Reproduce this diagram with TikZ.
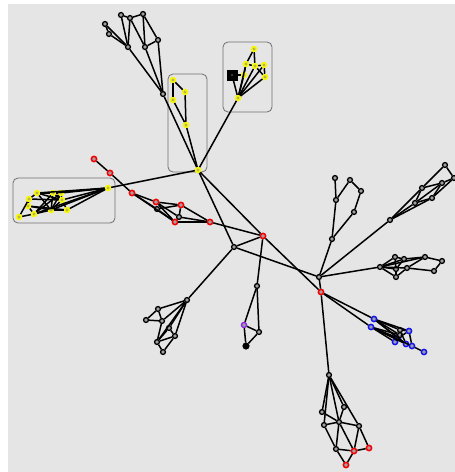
\documentclass[tikz,border=0pt]{standalone}
\definecolor{bgc}{HTML}{E5E5E5}
\definecolor{framec}{HTML}{6E6E6E}
\definecolor{yel}{HTML}{F8F800}
\definecolor{redc}{HTML}{F00000}
\definecolor{bluec}{HTML}{1010F0}
\definecolor{purp}{HTML}{8A2BE2}
\tikzset{
  base/.style={circle,inner sep=0pt,minimum size=4.8pt,fill=black!30,draw=black,line width=1.35pt,
    path picture={\fill[black!60] (path picture bounding box.center) circle (0.7pt);}},
  kn/.style={base},
  yn/.style={base,draw=yel,fill=yel!75!black!70,minimum size=5pt,line width=1.5pt},
  rn/.style={base,draw=redc,minimum size=5.2pt,line width=1.6pt},
  bn/.style={base,draw=bluec,minimum size=5.2pt,line width=1.5pt},
  pn/.style={base,draw=purp,minimum size=5pt,line width=1.5pt},
  blk/.style={circle,inner sep=0pt,minimum size=6.5pt,fill=black,draw=black,line width=.6pt},
  sq/.style={rectangle,inner sep=0pt,minimum size=10.5pt,fill=black,draw=black,
    path picture={\fill[black!55] (path picture bounding box.center) circle (0.8pt);}},
  edge/.style={draw=black,line width=1.5pt},
  groupbox/.style={draw=framec,line width=.8pt,rounded corners=5pt}
}
\begin{document}
\begin{tikzpicture}[x=1pt,y=-1pt]
\useasboundingbox (0,0) rectangle (455,472);
\fill[white] (0,0) rectangle (455,472);
\fill[bgc] (8,4) rectangle (455,472);
\draw[groupbox] (168,74) rectangle (207,172);
\draw[groupbox] (223,42) rectangle (272,112);
\draw[groupbox] (13,178) rectangle (115,223);
% top-left black cluster
\node[kn] (a1) at (121,15) {};
\node[kn] (a2) at (130,18) {};
\node[kn] (a3) at (143,14) {};
\node[kn] (a4) at (105,24) {};
\node[kn] (a5) at (109,34) {};
\node[kn] (a6) at (128,47) {};
\node[kn] (a7) at (145,47) {};
\node[kn] (a8) at (158,40) {};
\node[kn] (a9) at (163,94) {};
% yellow frame 1
\node[yn] (y1) at (173,80) {};
\node[yn] (y2) at (185,92) {};
\node[yn] (y3) at (173,100) {};
\node[yn] (y4) at (186,125) {};
\node[yn] (h) at (198,170) {};
% yellow frame 2
\node[yn] (z1) at (254,49) {};
\node[yn] (z2) at (246,64) {};
\node[yn] (z3) at (255,66) {};
\node[yn] (z4) at (264,65) {};
\node[yn] (z5) at (265,77) {};
\node[yn] (z6) at (244,75) {};
\node[sq] (z7) at (232,75) {};
\node[yn] (z8) at (238,98) {};
% left yellow cluster
\node[yn] (l0) at (108,188) {};
\node[yn] (l1) at (37,193) {};
\node[yn] (l2) at (53,193) {};
\node[yn] (l3) at (61,193) {};
\node[yn] (l4) at (29,199) {};
\node[yn] (l5) at (62,200) {};
\node[yn] (l6) at (28,206) {};
\node[yn] (l7) at (51,210) {};
\node[yn] (l8) at (67,210) {};
\node[yn] (l9) at (34,214) {};
\node[yn] (l10) at (19,217) {};
% red chain
\node[rn] (r1) at (94,159) {};
\node[rn] (r2) at (110,173) {};
\node[rn] (r3) at (132,193) {};
\node[rn] (r4) at (156,202) {};
\node[rn] (r5) at (181,205) {};
\node[kn] (r6) at (157,209) {};
\node[kn] (r7) at (179,217) {};
\node[rn] (r8) at (175,222) {};
\node[rn] (r9) at (210,222) {};
\node[rn] (c1) at (263,236) {};
\node[kn] (c2) at (234,247) {};
% hubs
\node[kn] (c3) at (319,277) {};
\node[rn] (c4) at (321,292) {};
% upper right loop
\node[kn] (u1) at (332,239) {};
\node[kn] (u2) at (336,200) {};
\node[kn] (u3) at (335,178) {};
\node[kn] (u4) at (350,180) {};
\node[kn] (u5) at (361,191) {};
\node[kn] (u6) at (354,212) {};
% right top cluster
\node[kn] (v1) at (390,220) {};
\node[kn] (v2) at (422,188) {};
\node[kn] (v3) at (432,198) {};
\node[kn] (v4) at (415,203) {};
\node[kn] (v5) at (442,183) {};
\node[kn] (v6) at (445,165) {};
\node[kn] (v7) at (454,178) {};
% right mid cluster
\node[kn] (w1) at (380,267) {};
\node[kn] (w2) at (395,257) {};
\node[kn] (w3) at (404,259) {};
\node[kn] (w4) at (425,257) {};
\node[kn] (w5) at (442,261) {};
\node[kn] (w6) at (434,271) {};
\node[kn] (w7) at (407,268) {};
\node[kn] (w8) at (396,269) {};
\node[kn] (w9) at (396,277) {};
% blue cluster
\node[bn] (b1) at (374,319) {};
\node[bn] (b2) at (371,327) {};
\node[bn] (b3) at (409,331) {};
\node[bn] (b4) at (398,338) {};
\node[bn] (b5) at (395,342) {};
\node[bn] (b6) at (406,344) {};
\node[bn] (b7) at (412,346) {};
\node[bn] (b8) at (424,352) {};
\node[kn] (b9) at (400,330) {};
\node[kn] (b10) at (400,335) {};
% bottom cluster
\node[kn] (s1) at (329,375) {};
\node[kn] (s2) at (322,412) {};
\node[kn] (s3) at (344,407) {};
\node[kn] (s4) at (324,425) {};
\node[kn] (s5) at (339,422) {};
\node[kn] (s6) at (359,426) {};
\node[kn] (s7) at (336,449) {};
\node[rn] (s8) at (354,451) {};
\node[rn] (s9) at (369,448) {};
\node[rn] (s10) at (346,465) {};
% lower left cluster
\node[kn] (t1) at (187,300) {};
\node[kn] (t2) at (158,309) {};
\node[kn] (t3) at (146,320) {};
\node[kn] (t4) at (162,321) {};
\node[kn] (t5) at (169,328) {};
\node[kn] (t6) at (175,336) {};
\node[kn] (t7) at (157,342) {};
\node[kn] (t8) at (163,352) {};
% lower middle
\node[kn] (m1) at (257,286) {};
\node[pn] (m2) at (244,325) {};
\node[kn] (m3) at (259,332) {};
\node[blk] (m4) at (246,346) {};
\foreach \p/\q in {
 a9/a6,a9/a7,a9/a8,a9/h,a1/a6,a2/a6,a1/a2,a2/a3,a3/a8,a2/a7,a3/a7,a7/a8,a4/a5,a4/a6,a5/a6,
 y1/y2,y2/y4,y3/y4,y1/y3,y4/h,
 z8/h,z8/z7,z8/z6,z8/z2,z8/z3,z8/z4,z8/z5,z7/z6,z1/z2,z1/z3,z2/z3,z3/z4,z4/z5,z3/z5,z2/z6,
 l0/h,l0/l1,l0/l2,l0/l3,l0/l5,l0/l7,l0/l8,l0/l9,
 l1/l2,l2/l3,l1/l4,l4/l6,l6/l9,l9/l10,l4/l10,l9/l7,l7/l8,l3/l5,l5/l8,l5/l7,l2/l7,l2/l9,l3/l9,l1/l7,l1/l5,l4/l5,l6/l7,l3/l7,l2/l5,l6/l8,
 r1/r2,r2/r3,r3/r4,r3/r6,r3/r8,r4/r5,r4/r8,r6/r8,r6/r5,r4/r7,r5/r7,r7/r8,r5/r9,r8/r9,r7/r9,r9/c1,
 h/c1,h/c2,c1/c4,c1/c2,c2/c3,c2/t1,c1/m1,c3/c4,c4/s1,
 c3/u1,u1/u2,u2/u3,u2/u4,u4/u5,u5/u6,u6/u1,
 c3/v1,v1/v2,v1/v3,v1/v4,v4/v3,v2/v5,v4/v5,v4/v2,v3/v5,v3/v7,v2/v6,v6/v7,v5/v7,
 c3/w1,w1/w2,w1/w3,w1/w4,w1/w8,w1/w9,w1/w7,w2/w3,w3/w4,w4/w5,w5/w6,w6/w7,w7/w4,w9/w7,w8/w9,w2/w8,w8/w3,
 c4/b1,c4/b2,b1/b3,b1/b9,b1/b4,b1/b6,b2/b5,b2/b4,b2/b6,b2/b10,b2/b7,b1/b10,b3/b7,b9/b3,b3/b4,b9/b6,b7/b8,b6/b7,b4/b6,b5/b4,b10/b9,
 s1/s2,s1/s4,s1/s5,s1/s3,s1/s6,s2/s5,s4/s5,s5/s6,s3/s5,s4/s7,s5/s8,s5/s7,s6/s8,s6/s9,s7/s8,s8/s9,s7/s10,s8/s10,
 t1/t2,t1/t4,t1/t5,t1/t6,t1/t7,t2/t3,t3/t4,t2/t4,t4/t7,t5/t6,t5/t7,t6/t7,t6/t8,t7/t8,
 m1/m2,m1/m3,m2/m3,m2/m4,m3/m4}
 {\draw[edge] (\p) -- (\q);}
\end{tikzpicture}
\end{document}
